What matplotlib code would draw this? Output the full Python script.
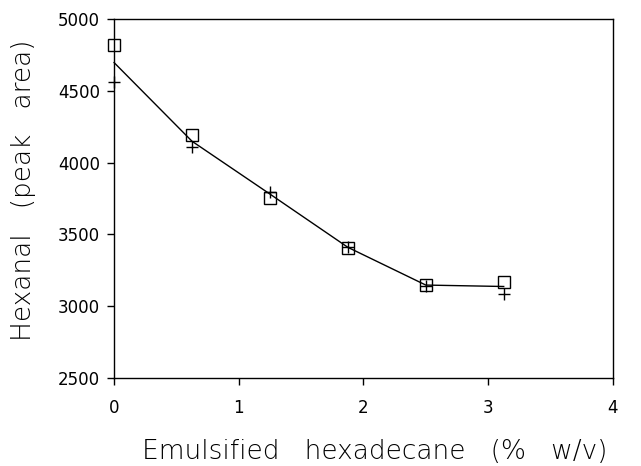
import matplotlib
matplotlib.use("Agg")
import matplotlib.pyplot as plt

# Data
x_vals = [0.0, 0.625, 1.25, 1.875, 2.5, 3.125]
squares = [4820, 4196, 3753, 3403, 3145, 3170]
pluses = [4560, 4107, 3795, 3415, 3140, 3088]
fit_vals = [4697, 4149, 3781, 3410, 3147, 3137]

x_ticks = [0, 1, 2, 3, 4]
y_ticks = [2500, 3000, 3500, 4000, 4500, 5000]

plt.rcParams['font.family'] = ['DejaVu Sans']

fig = plt.figure(figsize=(6.41, 4.66), dpi=100)
ax = fig.add_axes([0.178, 0.189, 0.778, 0.770])

ax.plot(x_vals, fit_vals, color='black', lw=1.0, clip_on=False)
ax.plot(x_vals, squares, linestyle='none', marker='s', markersize=8,
        markerfacecolor='none', markeredgecolor='black', markeredgewidth=1.0,
        clip_on=False)
ax.plot(x_vals, pluses, linestyle='none', marker='+', markersize=8,
        color='black', markeredgewidth=1.0, clip_on=False)

ax.set_xlim(0, 4)
ax.set_ylim(2500, 5000)
ax.set_xticks(x_ticks)
ax.set_yticks(y_ticks)
ax.set_xticklabels([str(t) for t in x_ticks])
ax.set_yticklabels([str(t) for t in y_ticks])
ax.tick_params(direction='out', length=5, width=1, labelsize=12, pad=5)
ax.tick_params(axis='x', pad=10)
for s in ax.spines.values():
    s.set_linewidth(1.0)

ax.set_xlabel('Emulsified   hexadecane   (%   w/v)', fontsize=19,
              fontweight='light', color='black')
ax.xaxis.label.set_va('center')
ax.xaxis.set_label_coords(0.523, -0.206)

ax.set_ylabel('Hexanal   (peak   area)', fontsize=19,
              fontweight='light', color='black')
ax.yaxis.label.set_va('center')
ax.yaxis.set_label_coords(-0.181, 0.524)

fig.savefig('out.png', dpi=100)
